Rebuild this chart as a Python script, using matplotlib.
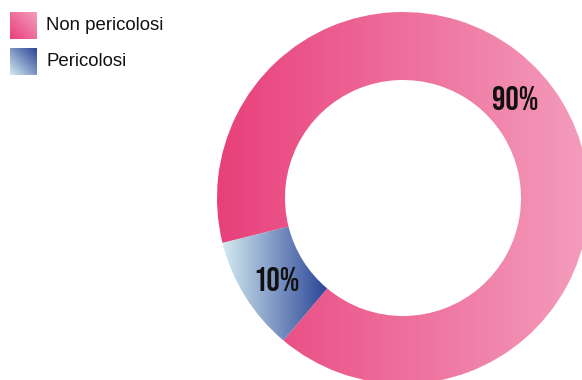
import matplotlib
matplotlib.use("Agg")
import matplotlib.pyplot as plt
import numpy as np
from matplotlib.patches import Wedge
from matplotlib.colors import LinearSegmentedColormap

# data
labels = ['Non pericolosi', 'Pericolosi']
values = [90, 10]
pct_text = ['90%', '10%']

W, H = 582, 380
cx, cy = 403, 182          # y-up pixel coords
r_out, r_in = 186, 118
start = 194                # where "Pericolosi" starts (deg)

pink = LinearSegmentedColormap.from_list('pink', ['#e8407a', '#f49dbd'])
blue = LinearSegmentedColormap.from_list('blue', ['#d3eaf1', '#2a4496'])

fig = plt.figure(figsize=(W / 100, H / 100), dpi=100)
ax = fig.add_axes([0, 0, 1, 1])
ax.set_xlim(0, W)
ax.set_ylim(0, H)
ax.axis('off')

grad = np.linspace(0, 1, 256).reshape(1, -1)

total = sum(values)
spans = [v / total * 360 for v in values]
b1, b2 = start, start + spans[1]
p1, p2 = b2, b2 + spans[0]

# pink ring, gradient across the whole donut
w = Wedge((cx, cy), r_out, p1, p2, width=r_out - r_in, facecolor='none', edgecolor='none')
ax.add_patch(w)
im = ax.imshow(grad, cmap=pink, aspect='auto',
               extent=[cx - r_out, cx + r_out, cy - r_out, cy + r_out], zorder=1)
im.set_clip_path(w)

# blue slice, gradient across its own bbox
wb = Wedge((cx, cy), r_out, b1, b2, width=r_out - r_in, facecolor='none', edgecolor='none')
ax.add_patch(wb)
ang = np.radians(np.linspace(b1, b2, 50))
xs = np.concatenate([cx + r_out * np.cos(ang), cx + r_in * np.cos(ang)])
ys = np.concatenate([cy + r_out * np.sin(ang), cy + r_in * np.sin(ang)])
imb = ax.imshow(grad, cmap=blue, aspect='auto',
                extent=[xs.min(), xs.max(), ys.min(), ys.max()], zorder=2)
imb.set_clip_path(wb)

# percentage labels
lab_font = dict(family=['Bebas Neue', 'Oswald', 'DejaVu Sans'], fontweight='bold',
                fontsize=24, color='#111111', ha='center', va='center', zorder=5)
ax.text(515, 282, pct_text[0], **lab_font)
ax.text(276, 101, pct_text[1], **lab_font)

# legend with gradient swatches
diag = np.add.outer(np.linspace(1, 0, 64), np.linspace(0, 1, 64)) / 2
sw = 27
for i, (lab, cm) in enumerate(zip(labels, [pink, blue])):
    top = H - 12 - i * 36
    ax.imshow(diag, cmap=cm, aspect='auto',
              extent=[10, 10 + sw, top - sw, top], zorder=3, origin='upper')
    ax.text(46, top - sw / 2, lab, family=['Liberation Sans', 'DejaVu Sans'],
            fontsize=13.4, color='#111111', va='center', ha='left')

ax.set_xlim(0, W)
ax.set_ylim(0, H)
fig.savefig('out.png', dpi=100)
